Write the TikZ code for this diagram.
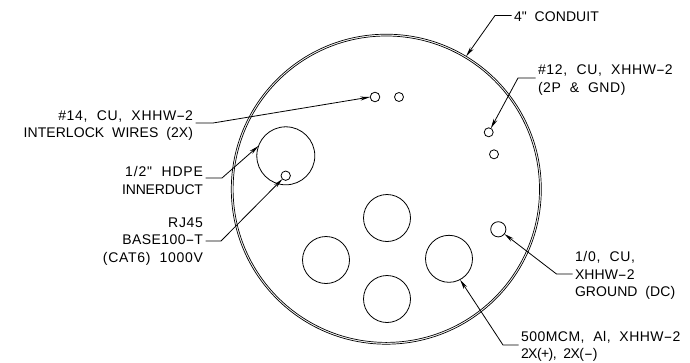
\documentclass[tikz,border=0pt]{standalone}
\usepackage{graphicx}
\usepackage{fontspec}
\setmainfont{Liberation Sans}
\newfontfamily\cadfont[WordSpace=2,LetterSpace=0.5]{Liberation Sans}
\newcommand\cadhy{\scalebox{1.9}[1]{-}}
\newcommand\cadls[2]{{\addfontfeature{LetterSpace=#1}#2}}
\usetikzlibrary{arrows.meta}
\tikzset{
  x=1pt,y=-1pt,
  hole/.style={circle,draw=black,line width=0.8pt,inner sep=0pt,outer sep=0pt,minimum size=#1},
  pipe/.style={circle,draw=black,line width=0.7pt,inner sep=0pt,outer sep=0pt,minimum size=#1},
  lab/.style={inner sep=2.5pt,outer sep=0pt,font=\cadfont\fontsize{14}{17.5}\selectfont,text=black},
  leader/.style={draw=black,line width=0.8pt,-{Stealth[length=10pt,width=4pt]}}
}
\begin{document}
\begin{tikzpicture}
\useasboundingbox (0,0) rectangle (690,362);
% conduit
\node[pipe=310pt] (conduit) at (386.3,189.2) {};
\node[pipe=306.4pt] (conduitin) at (386.3,189.2) {};
% wires and ducts
\node[hole=9.6pt] (w14a) at (375,97) {};
\node[hole=9pt] (w14b) at (399,97) {};
\node[hole=9pt] (w12a) at (488.7,132.3) {};
\node[hole=9pt] (w12b) at (494,154.3) {};
\node[hole=15.2pt] (gnd) at (498.3,229.3) {};
\node[hole=58pt] (duct) at (285.8,155.8) {};
\node[hole=9.4pt] (rj) at (285.7,175.7) {};
\node[hole=47pt] (p1) at (387,218) {};
\node[hole=47pt] (p2) at (326,260) {};
\node[hole=47pt] (p3) at (449,258.8) {};
\node[hole=47pt] (p4) at (387,299) {};
% labels
\node[lab,anchor=east,align=right] (l14) at (195.5,125.5) {\cadls{5}{\#14, CU, XHHW\cadhy2}\\INTERLOCK WIRES (2X)};
\node[lab,anchor=east,align=right] (lhdpe) at (205.5,180.5) {\cadls{6}{1/2" HDPE}\\\cadls{-1.5}{INNERDUCT}};
\node[lab,anchor=east,align=right] (lrj) at (205.5,241.5) {\cadls{5}{RJ45}\\\cadls{3}{BASE100\cadhy T}\\\cadls{5}{(CAT6) 1000V}};
\node[lab,anchor=west,align=left] (lcond) at (511.5,17) {4" CONDUIT};
\node[lab,anchor=west,align=left] (l12) at (535.5,80) {\cadls{5}{\#12, CU, XHHW\cadhy2}\\\cadls{4}{(2P \& GND)}};
\node[lab,anchor=west,align=left] (lgnd) at (572.5,275.5) {\cadls{5}{1/0, CU,}\\XHHW\cadhy2\\GROUND (DC)};
\node[lab,anchor=west,align=left] (l500) at (518.5,346.5) {\cadls{3.5}{500MCM, Al, XHHW\cadhy2}\\\cadls{-4}{2X(+), 2X(\cadhy)}};
% knees
\coordinate (k14) at (213,123);
\coordinate (khdpe) at (222,178);
\coordinate (krj) at (221,241);
\coordinate (kcond) at (495,15.5);
\coordinate (k12) at (518,78);
\coordinate (kgnd) at (556.5,274);
\coordinate (k500) at (503,345);
% leaders
\draw[leader] (l14.east |- k14) -- (k14) -- (w14a.west);
\draw[leader] (lhdpe.east |- khdpe) -- (khdpe) -- (duct.160);
\draw[leader] (lrj.east |- krj) -- (krj) -- (rj);
\draw[leader] (lcond.west |- kcond) -- (kcond) -- (conduit.59);
\draw[leader] (l12.west |- k12) -- (k12) -- (w12a);
\draw[leader] (lgnd.west |- kgnd) -- (kgnd) -- (gnd);
\draw[leader] (l500.west |- k500) -- (k500) -- (p3.-62);
\end{tikzpicture}
\end{document}
